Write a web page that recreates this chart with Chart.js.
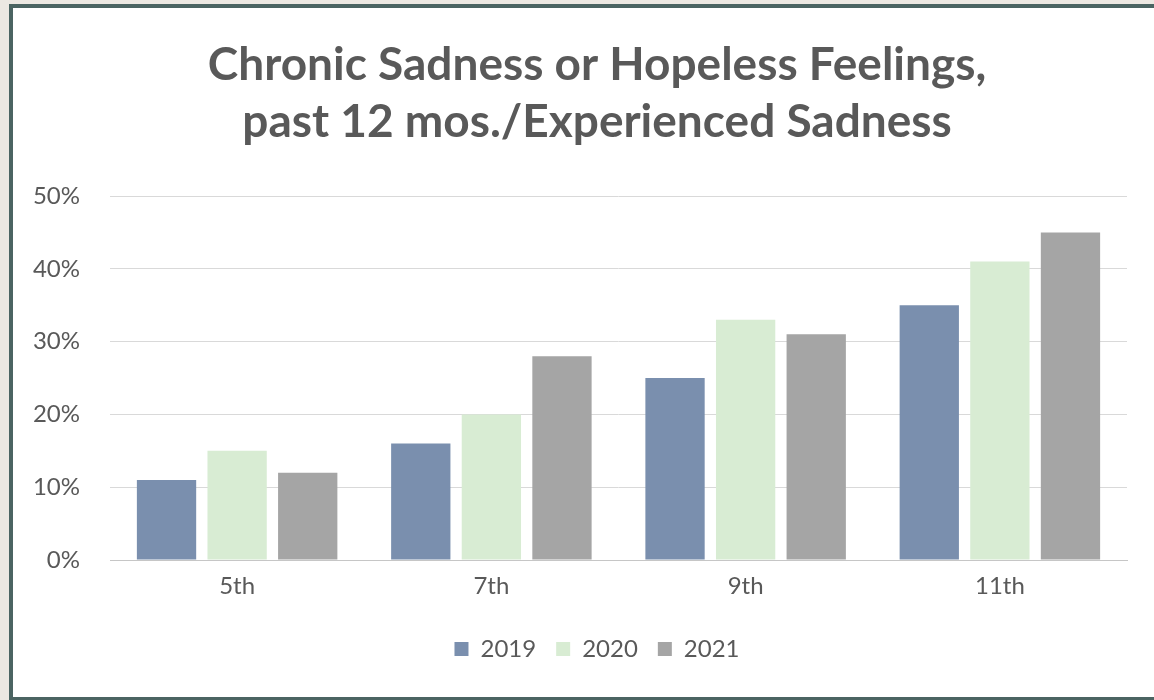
<!DOCTYPE html>
<html>
<head>
<meta charset="utf-8">
<script src="https://cdn.jsdelivr.net/npm/chart.js@4/dist/chart.umd.min.js"></script>
<style>
    html, body { margin: 0; padding: 0; background: #ece8e2; overflow: hidden; }
    #frame {
        position: absolute; left: 9px; top: 4px; width: 1200px; height: 697px;
        box-sizing: border-box; border: 4px solid #4b6462; background: #ffffff;
        overflow: hidden;
    }
    #chart { position: absolute; left: 0; top: 0; }
</style>
</head>
<body>
<div id="frame"><canvas id="chart" width="1153" height="689"></canvas></div>
<script>
const grades = ['5th', '7th', '9th', '11th']
const years = ['2019', '2020', '2021']
const values2019 = [0.11, 0.16, 0.25, 0.35]
const values2020 = [0.15, 0.20, 0.33, 0.41]
const values2021 = [0.12, 0.28, 0.31, 0.45]
const yTicks = [0, 0.1, 0.2, 0.3, 0.4, 0.5]

const textGray = '#595959'
const fontFamily = 'Lato, "Open Sans", sans-serif'

const seriesColors = ['#7a8fae', '#d8ecd3', '#a5a5a5']
const seriesValues = [values2019, values2020, values2021]

let dataSets = []
years.forEach((year, i) => {
    dataSets.push({
        label: year,
        data: seriesValues[i],
        backgroundColor: seriesColors[i],
        borderWidth: 0,
        categoryPercentage: 0.833,
        barPercentage: 0.84
    })
})

const myChart = new Chart(document.getElementById('chart'), {
    type: 'bar',
    data: {
        labels: grades,
        datasets: dataSets
    },
    options: {
        responsive: false,
        animation: false,
        devicePixelRatio: 1,
        layout: {
            padding: { left: 15, right: 0, top: 0, bottom: 26 }
        },
        plugins: {
            title: {
                display: true,
                text: ['Chronic Sadness or Hopeless Feelings,', 'past 12 mos./Experienced Sadness'],
                color: textGray,
                font: { family: fontFamily, size: 46, weight: 'bold', lineHeight: 1.24 },
                padding: { top: 29, bottom: 45 }
            },
            legend: {
                display: true,
                position: 'bottom',
                labels: {
                    color: textGray,
                    boxWidth: 14,
                    boxHeight: 14,
                    padding: 20,
                    font: { family: fontFamily, size: 24 }
                }
            },
            tooltip: { enabled: false }
        },
        scales: {
            x: {
                grid: { display: false, drawTicks: false },
                border: { display: true, color: '#c6c6c6', width: 1 },
                ticks: {
                    color: textGray,
                    padding: 12,
                    font: { family: fontFamily, size: 24 }
                },
                afterFit: (axis) => { axis.height = 57 }
            },
            y: {
                min: 0,
                max: 0.5,
                grid: { color: '#d9d9d9', drawTicks: false },
                border: { display: false },
                afterBuildTicks: (axis) => {
                    axis.ticks = yTicks.map(v => ({ value: v }))
                },
                afterFit: (axis) => { axis.width = 82 },
                ticks: {
                    color: textGray,
                    padding: 30,
                    font: { family: fontFamily, size: 24 },
                    callback: (value) => Math.round(value * 100) + '%'
                }
            },
            // empty right-hand box so the title sits where the reference has it
            spacer: {
                type: 'linear',
                position: 'right',
                grid: { display: false, drawTicks: false },
                border: { display: false },
                ticks: { display: false },
                afterFit: (axis) => { axis.width = 39 }
            }
        }
    }
})
</script>
</body>
</html>
